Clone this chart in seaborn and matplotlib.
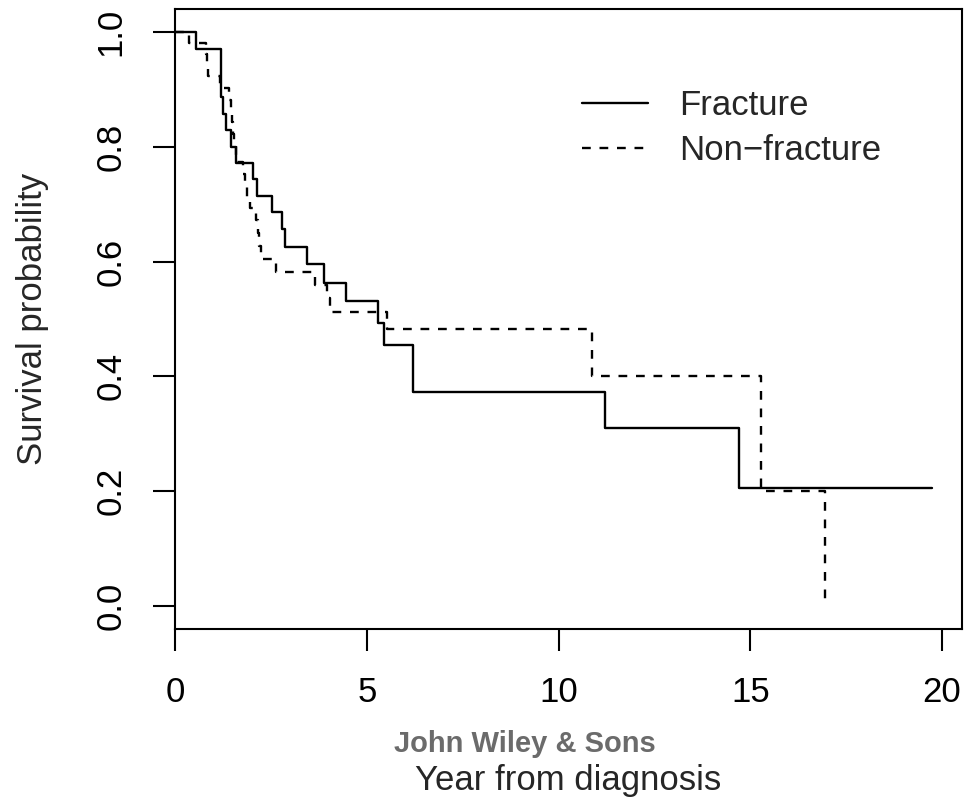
import numpy as np
import pandas as pd
import matplotlib
matplotlib.use("Agg")
import matplotlib.pyplot as plt
import seaborn as sns

# Kaplan-Meier step values
frac_time = [0.0, 0.55, 1.19, 1.20, 1.21, 1.26, 1.33, 1.45, 1.59, 2.04, 2.13,
             2.53, 2.79, 2.87, 3.45, 3.88, 4.45, 5.29, 5.45, 6.21, 11.21,
             14.71, 19.73]
frac_surv = [1.0, 0.971, 0.943, 0.914, 0.886, 0.857, 0.829, 0.800, 0.771,
             0.743, 0.714, 0.686, 0.657, 0.626, 0.595, 0.563, 0.531, 0.493,
             0.455, 0.372, 0.310, 0.206, 0.206]

nonfrac_time = [0.0, 0.37, 0.81, 0.84, 0.86, 1.17, 1.41, 1.45, 1.48, 1.51,
                1.55, 1.60, 1.78, 1.83, 1.89, 1.95, 2.12, 2.17, 2.20, 2.23,
                2.63, 3.65, 3.96, 4.04, 5.53, 10.88, 15.29, 16.96]
nonfrac_surv = [1.0, 0.981, 0.962, 0.942, 0.923, 0.902, 0.882, 0.862, 0.843,
                0.823, 0.804, 0.773, 0.753, 0.733, 0.713, 0.693, 0.673, 0.650,
                0.627, 0.604, 0.581, 0.559, 0.536, 0.513, 0.482, 0.401, 0.200,
                0.0]

groups = ["Fracture", "Non\u2212fracture"]
x_ticks = [0, 5, 10, 15, 20]
y_ticks = [0.0, 0.2, 0.4, 0.6, 0.8, 1.0]

df = pd.concat([
    pd.DataFrame({"time": frac_time, "surv": frac_surv, "group": groups[0]}),
    pd.DataFrame({"time": nonfrac_time, "surv": nonfrac_surv, "group": groups[1]}),
], ignore_index=True)

sns.set_style("white")
plt.rcParams["font.family"] = ["Liberation Sans", "DejaVu Sans"]
plt.rcParams["lines.scale_dashes"] = False

fig = plt.figure(figsize=(9.71, 8.06), dpi=100)
ax = fig.add_axes([175 / 971, 1 - 629 / 806, (962 - 175) / 971, (629 - 9) / 806])

sns.lineplot(data=df, x="time", y="surv", style="group", style_order=groups,
             dashes={groups[0]: "", groups[1]: (6.3, 6.3)},
             drawstyle="steps-post", estimator=None, sort=False,
             color="black", linewidth=1.7, ax=ax)

ax.set_xlim(0, max(frac_time) * 1.04)
ax.set_ylim(-0.04, 1.04)
ax.set_xticks(x_ticks)
ax.set_yticks(y_ticks)
ax.set_xticklabels([str(t) for t in x_ticks])
ax.set_yticklabels([f"{t:.1f}" for t in y_ticks])
ax.tick_params(axis="both", length=16, width=1.5, pad=18, labelsize=25,
               color="black", labelcolor="black", direction="out",
               bottom=True, left=True)
plt.setp(ax.get_yticklabels(), rotation=90, va="center", ha="right")

for sp in ax.spines.values():
    sp.set_visible(True)
    sp.set_color("black")
    sp.set_linewidth(1.5)

ax.set_xlabel("Year from diagnosis", fontsize=25)
ax.set_ylabel("Survival probability", fontsize=25)
ax.xaxis.set_label_coords(0.5, -0.217)
ax.yaxis.set_label_coords(-0.16, 0.5)

leg = ax.legend(loc="upper left", bbox_to_anchor=(0.5, 0.893), frameon=False,
                fontsize=25, handlelength=1.9, handletextpad=0.9,
                labelspacing=0.33, borderaxespad=0)
for line in leg.get_lines():
    line.set_linewidth(1.7)

fig.text(525 / 971, 1 - 744 / 806, "John Wiley & Sons", ha="center",
         va="center", fontsize=21, fontweight="bold", color="#6b6b6b")

fig.savefig("out.png", dpi=100)
